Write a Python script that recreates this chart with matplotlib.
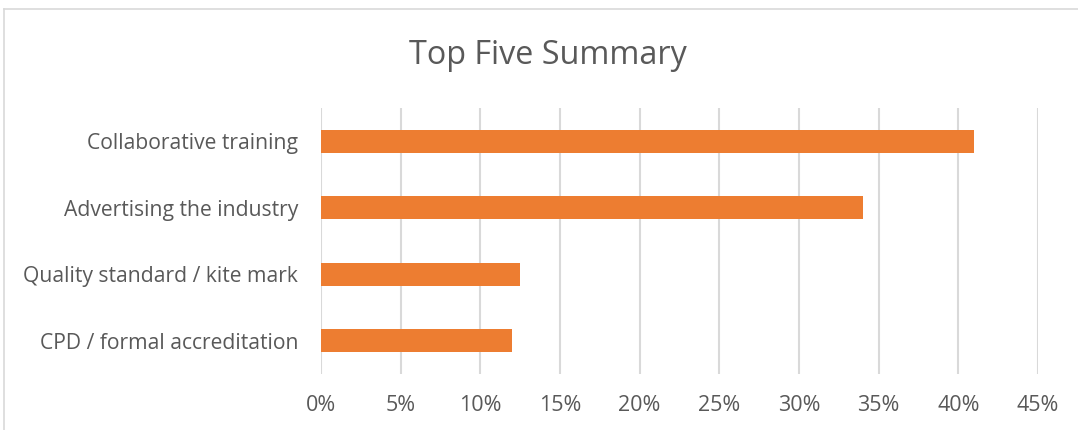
import matplotlib
matplotlib.use("Agg")
import matplotlib.pyplot as plt
from matplotlib.ticker import FuncFormatter, MultipleLocator
from matplotlib.lines import Line2D

categories = ["Collaborative training", "Advertising the industry",
              "Quality standard / kite mark", "CPD / formal accreditation"]
values = [0.41, 0.34, 0.125, 0.12]
x_max = 0.45

TEXT = "#595959"
GRID = "#D9D9D9"
BAR = "#ED7D31"

plt.rcParams["font.family"] = ["Open Sans", "DejaVu Sans"]

fig = plt.figure(figsize=(10.78, 4.30), dpi=100)
W, H = 1078, 430
ax = fig.add_axes([321 / W, 1 - 374 / H, (1038 - 321) / W, (374 - 108) / H])

pos = list(range(len(categories)))
ax.barh(pos, values, height=0.35, color=BAR, zorder=3)
ax.set_ylim(len(categories) - 0.5, -0.5)
ax.set_xlim(0, x_max)
ax.set_yticks(pos)
ax.set_yticklabels(categories, fontsize=15.2, color=TEXT)
ax.xaxis.set_major_locator(MultipleLocator(0.05))
ax.xaxis.set_major_formatter(FuncFormatter(lambda v, _: f"{round(v * 100)}%"))
ax.tick_params(axis="x", labelsize=15.5, labelcolor=TEXT, length=0, pad=15)
ax.tick_params(axis="y", length=0, pad=16.5)
ax.grid(axis="x", color=GRID, linewidth=1.5, zorder=0)
for s in ax.spines.values():
    s.set_visible(False)

fig.text(548 / W, 1 - 56 / H, "Top Five Summary", ha="center", va="center",
         fontsize=23.3, color=TEXT)

# chart frame: top and left edges
top = 1 - 9 / H
left = 4 / W
fig.add_artist(Line2D([left, 1.0], [top, top], transform=fig.transFigure,
                      color=GRID, linewidth=1.2))
fig.add_artist(Line2D([left, left], [0.0, top], transform=fig.transFigure,
                      color=GRID, linewidth=1.2))

fig.savefig("out.png", dpi=100)
